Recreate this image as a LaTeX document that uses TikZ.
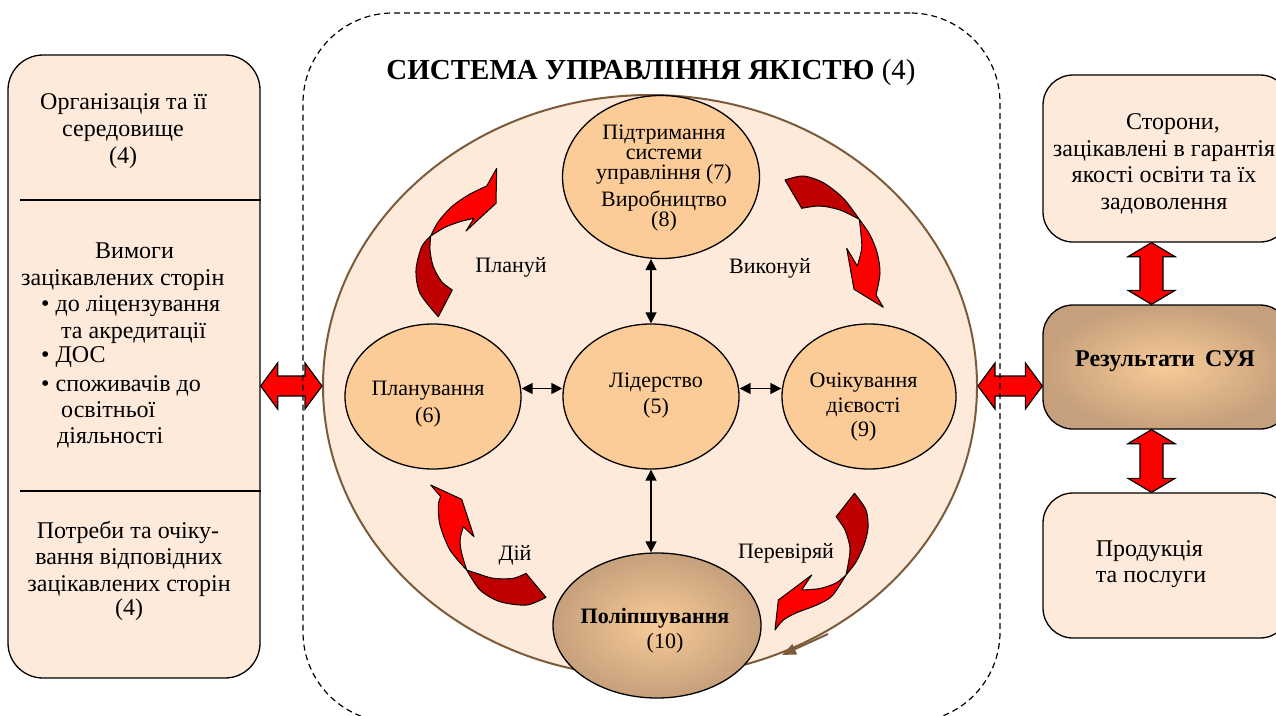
\documentclass[tikz,border=0pt]{standalone}
\usepackage{fontspec}
\setmainfont{Liberation Serif}
\usetikzlibrary{shapes.geometric,arrows.meta,calc}
\definecolor{peach}{HTML}{FDEADA}
\definecolor{circfill}{HTML}{FBCB98}
\definecolor{brownb}{HTML}{7B5B3A}
\definecolor{gradin}{HTML}{F8CB98}
\definecolor{gradout}{HTML}{C6A07C}
\definecolor{redhi}{HTML}{FF0000}
\definecolor{redlo}{HTML}{C00000}
\newcommand{\fs}[2]{\fontsize{#1}{#2}\selectfont}
\newcommand{\hblock}[2]{\filldraw[blockarrow] let \p1=#1, \p2=#2 in (\x1,\y1) -- (\x1+17pt,\y1+23pt) -- (\x1+17pt,\y1+10pt) -- (\x2-17pt,\y1+10pt) -- (\x2-17pt,\y1+23pt) -- (\x2,\y1) -- (\x2-17pt,\y1-23pt) -- (\x2-17pt,\y1-10pt) -- (\x1+17pt,\y1-10pt) -- (\x1+17pt,\y1-23pt) -- cycle;}
\newcommand{\vblock}[2]{\filldraw[blockarrow] let \p1=#1, \p2=#2 in (\x1,\y1) -- (\x1+23.5pt,\y1-14pt) -- (\x1+11.5pt,\y1-14pt) -- (\x1+11.5pt,\y2+14pt) -- (\x1+23.5pt,\y2+14pt) -- (\x1,\y2) -- (\x1-23.5pt,\y2+14pt) -- (\x1-11.5pt,\y2+14pt) -- (\x1-11.5pt,\y1-14pt) -- (\x1-23.5pt,\y1-14pt) -- cycle;}
\begin{document}
\begin{tikzpicture}[x=1pt,y=-1pt,
  boxstyle/.style={draw=black, line width=1.3pt, fill=peach, rounded corners=30pt, inner sep=0pt},
  circstyle/.style={ellipse, draw=black, line width=1.3pt, fill=circfill, inner sep=0pt},
  txt/.style={inner sep=0pt, align=center, font=\fs{22}{26}},
  lt/.style={inner sep=0pt, font=\fs{24}{27}, anchor=base west},
  ct/.style={inner sep=0pt, font=\fs{24}{27}, anchor=base},
  blk/.style={{Triangle[length=11pt,width=11pt]}-{Triangle[length=11pt,width=11pt]}, line width=1.5pt},
  redhistyle/.style={fill=redhi, draw=black, line width=1pt, line join=round},
  redlostyle/.style={fill=redlo, draw=black, line width=1pt, line join=round},
  blockarrow/.style={fill=redhi, draw=black, line width=1.2pt, line join=miter}
]
\useasboundingbox (0,0) rectangle (1276,715);
\clip (0,0) rectangle (1276,715);

% left box
\node[boxstyle, rounded corners=35pt, minimum width=252pt, minimum height=623pt] (lbox) at (134,366.5) {};
\draw[line width=1.3pt] (20,200) -- (lbox.east |- 0,200);
\draw[line width=1.3pt] (20,491) -- (lbox.east |- 0,491);
\node[lt] (l1) at (40,109) {Організація та її};
\node[lt] (l2) at (62,136) {середовище};
\node[ct] (l3) at (123,163) {(4)};
\node[lt] (l4) at (95,258) {Вимоги};
\node[lt] (l5) at (21,285) {зацікавлених сторін};
\node[lt] (l6) at (41,311) {•\hspace{6pt}до ліцензування};
\node[lt] (l7) at (61,338) {та акредитації};
\node[lt] (l8) at (41,362) {•\hspace{6pt}ДОС};
\node[lt] (l9) at (41,391) {•\hspace{6pt}споживачів до};
\node[lt] (l10) at (61,417) {освітньої};
\node[lt] (l11) at (57,443) {діяльності};
\node[ct] (l12) at (128,538) {Потреби та очіку-};
\node[ct] (l13) at (129,564) {вання відповідних};
\node[ct] (l14) at (129,591) {зацікавлених сторін};
\node[ct] (l15) at (129,615) {(4)};

% title
\node[inner sep=0pt, font=\fs{29}{32}] (title) at (651,73) {\textbf{СИСТЕМА УПРАВЛІННЯ ЯКІСТЮ} (4)};

% big ellipse
\node[ellipse, draw=brownb, line width=2pt, fill=peach, inner sep=0pt, minimum width=654pt, minimum height=582pt] (big) at (650,386) {};

% circles
\node[circstyle, minimum width=197pt, minimum height=163pt] (sup) at (661,177) {};
\node[circstyle, minimum width=176pt, minimum height=145pt] (plan) at (433,396.5) {};
\node[circstyle, minimum width=176pt, minimum height=145pt] (lead) at (651,396.5) {};
\node[circstyle, minimum width=174pt, minimum height=145pt] (perf) at (869,396.5) {};
\node[ellipse, draw=black, line width=1.3pt, inner color=gradin, outer color=gradout, inner sep=0pt, minimum width=208pt, minimum height=145pt] (impr) at (657,625.5) {};

% circle texts
\node[txt, font=\fs{22}{20}] (tsup) at (664,178) {Підтримання\\системи\\управління (7)\\[5pt]Виробництво\\(8)};
\node[txt, font=\fs{22}{27}] (tplan) at (428,404.5) {Планування\\(6)};
\node[txt, font=\fs{22}{26}] (tlead) at (656,396) {Лідерство\\(5)};
\node[txt, font=\fs{22}{24.5}] (tperf) at (863.5,407.5) {Очікування\\дієвості\\(9)};
\node[txt, font=\fs{22}{25}] (timpr) at (655,630.5) {\textbf{Поліпшування}\\\hspace*{20pt}(10)};

% cycle labels
\node[txt] (lbplan) at (511,267) {Плануй};
\node[txt] (lbdo) at (770,268) {Виконуй};
\node[txt] (lbact) at (515,555) {Дій};
\node[txt] (lbcheck) at (786,553) {Перевіряй};

% black arrows
\draw[blk] ([yshift=8pt]plan.east) -- ([yshift=8pt]lead.west);
\draw[blk] ([yshift=8pt]lead.east) -- ([yshift=8pt]perf.west);
\draw[blk] (lead.north) -- (lead.north |- sup.south);
\draw[blk] (lead.south) -- (lead.south |- impr.north);

% curved arrows: plan
\filldraw[redlostyle] plot[smooth] coordinates {(430.7,236) (421.7,246.7) (416,270) (420,293.3) (438.3,316.7)} -- (452.3,290) -- plot[smooth] coordinates {(452.3,290) (441.7,281.7) (433.3,266.7) (430,250) (430.7,236)} -- cycle;
\filldraw[redhistyle] plot[smooth] coordinates {(430.7,236) (438.3,221.7) (451.7,206.7) (468.3,195) (486.7,186)} -- (496.7,168.3) -- (496,203.3) -- (466,231) -- (474,218.3) -- plot[smooth] coordinates {(474,218.3) (460,221.7) (445,227.3) (430.7,236)} -- cycle;
% do
\filldraw[redlostyle] plot[smooth] coordinates {(859.3,219.3) (843.3,198.3) (823.3,182.7) (803.3,176) (785,180)} -- (801.7,208.3) -- plot[smooth] coordinates {(801.7,208.3) (820,206) (840,210) (859.3,219.3)} -- cycle;
\filldraw[redhistyle] plot[smooth] coordinates {(859.3,219.3) (870,235) (877.3,253.3) (880,273.3) (876,295)} -- (883.3,307.3) -- (854,289.3) -- (846.7,248.3) -- (857.3,266) -- plot[smooth] coordinates {(857.3,266) (861.7,248.3) (860.7,231.7) (859.3,219.3)} -- cycle;
% act
\filldraw[redlostyle] plot[smooth] coordinates {(466.7,570) (476.7,573.3) (493.3,578.3) (513.3,578.3) (526,573.3)} -- (546,597.3) -- plot[smooth] coordinates {(546,597.3) (526.7,605) (500,601.7) (480,590) (466.7,570)} -- cycle;
\filldraw[redhistyle] plot[smooth] coordinates {(466.7,570) (450,550) (440,525) (438.3,505) (440.7,496.7)} -- (430.7,485) -- (461.7,499.3) -- (474,536.7) -- (463.3,526.7) -- plot[smooth] coordinates {(463.3,526.7) (460,540) (461.7,553.3) (466.7,570)} -- cycle;
% check
\filldraw[redlostyle] plot[smooth] coordinates {(846,575) (856,562) (864,545) (868,528) (866,510) (854.5,493.3)} -- (836.1,516.7) -- plot[smooth] coordinates {(836.1,516.7) (845,530) (850,548) (848,565) (846,575)} -- cycle;
\filldraw[redhistyle] plot[smooth] coordinates {(846,575) (836,583) (820,588.5) (801.7,590)} -- (811.7,575) -- (778.3,600) -- (775,630) -- plot[smooth] coordinates {(775,630) (783.3,620) (796.7,612.7) (816.7,605) (832,596) (846,575)} -- cycle;

% brown small arrow
\coordinate (ba1) at (828,634);
\coordinate (ba2) at (782,655);
\draw[brownb, line width=2pt, -{Triangle[length=14pt,width=11pt]}] (ba1) -- (ba2);

% right boxes
\node[boxstyle, minimum width=247pt, minimum height=167pt] (rtop) at (1166.5,158.5) {};
\node[draw=black, line width=1.3pt, rounded corners=30pt, inner color=gradin, outer color=gradout, inner sep=0pt, minimum width=247pt, minimum height=124pt] (res) at (1166.5,367) {};
\node[boxstyle, minimum width=247pt, minimum height=145pt] (rbot) at (1166.5,565.5) {};
\node[txt, font=\fs{24}{26.7}] (trtop) at (1164,164) {\hspace*{18pt}Сторони,\\зацікавлені в гарантія\\якості освіти та їх\\задоволення};
\node[inner sep=0pt, font=\bfseries\fs{24}{27}] (tres) at (1165,361) {Результати\hspace{10pt}СУЯ};
\node[txt, align=left, font=\fs{24}{26}] (tprod) at (1151,564) {Продукція\\та послуги};

% block arrows
\hblock{(lbox.east |- big.west)}{(big.west)}
\hblock{(big.east)}{(res.west |- big.east)}
\coordinate (vx) at (1151.5,0);
\vblock{(vx |- rtop.south)}{(vx |- res.north)}
\vblock{(vx |- res.south)}{(vx |- rbot.north)}

% dashed system frame
\node[draw=black, line width=1.2pt, dash pattern=on 6pt off 4pt, rounded corners=90pt, inner sep=0pt, minimum width=697pt, minimum height=709pt] (sys) at (651.5,367.5) {};
\end{tikzpicture}
\end{document}
